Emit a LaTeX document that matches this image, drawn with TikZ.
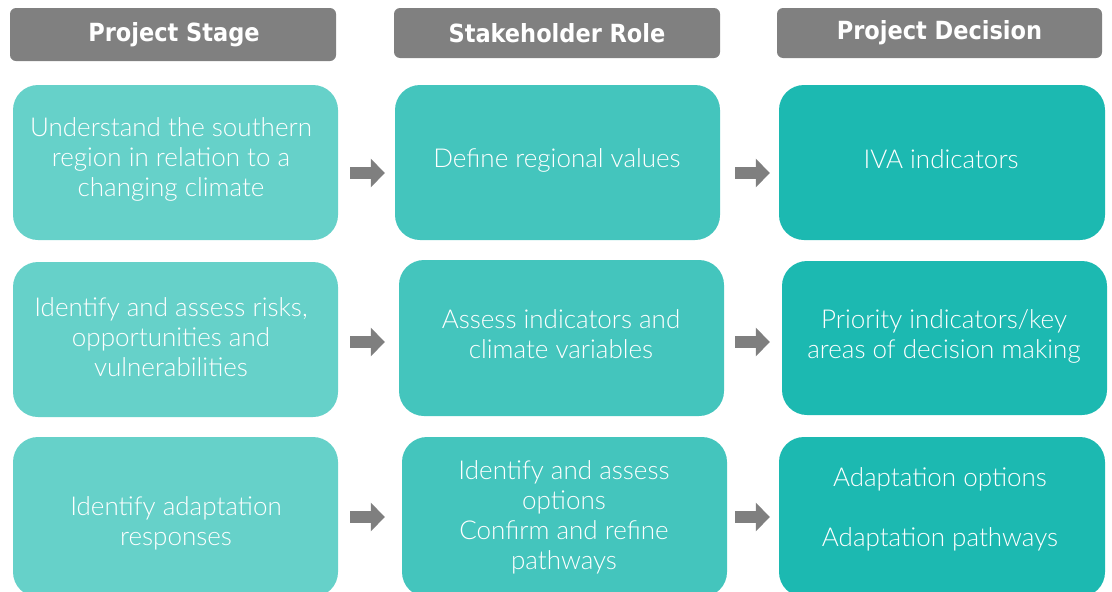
\documentclass[tikz,border=0pt]{standalone}
\usepackage{fontspec}
\setmainfont{Lato Light}
\newfontfamily\hdfont{DejaVu Sans Condensed}
\usetikzlibrary{arrows.meta}
\definecolor{hdgray}{HTML}{808080}
\definecolor{arrgray}{HTML}{7F7F7F}
\definecolor{colA}{HTML}{66D1C9}
\definecolor{colB}{HTML}{44C5BD}
\definecolor{colC}{HTML}{1CB9B1}
\tikzset{
  header/.style={fill=hdgray, rounded corners=6pt, draw=none, inner sep=0pt},
  hdtext/.style={text=white, font=\hdfont\bfseries\fontsize{25}{30}\selectfont, inner sep=0pt},
  card/.style={draw=none, rounded corners=25pt, inner sep=0pt},
  cardA/.style={card, fill=colA},
  cardB/.style={card, fill=colB},
  cardC/.style={card, fill=colC},
  body/.style={text=white, align=center, font=\fontsize{26}{30}\selectfont, inner sep=0pt},
  blockarrow/.style={draw=arrgray, line width=12pt, -{Triangle[length=14pt,width=28pt]}}
}
\begin{document}
\begin{tikzpicture}[x=1pt,y=-1pt]
\clip (0,0) rectangle (1112,592);
% headers
\node[header, minimum width=326pt, minimum height=53pt] (h1) at (173,34.5) {};
\node[header, minimum width=326pt, minimum height=50pt] (h2) at (557,33) {};
\node[header, minimum width=325pt, minimum height=50pt] (h3) at (939.5,33) {};
\node[hdtext] (h1t) at (174,34.5) {Project Stage};
\node[hdtext] (h2t) at (h2.center) {Stakeholder Role};
\node[hdtext] (h3t) at (h3.center) {Project Decision};
% row 1
\node[cardA, minimum width=325pt, minimum height=155pt] (a1) at (175.5,162.5) {};
\node[cardB, minimum width=325pt, minimum height=155pt] (b1) at (557.5,162.5) {};
\node[cardC, minimum width=326pt, minimum height=155pt] (c1) at (942,162.5) {};
\node[body] (a1t) at (171,159) {Understand the southern\\region in relation to a\\changing climate};
\node[body] (b1t) at (557,160) {Define regional values};
\node[body] (c1t) at (941,159) {IVA indicators};
% row 2
\node[cardA, minimum width=325pt, minimum height=155pt] (a2) at (175.5,339.5) {};
\node[cardB, minimum width=325pt, minimum height=156pt] (b2) at (561.5,338) {};
\node[cardC, minimum width=325pt, minimum height=154pt] (c2) at (944.5,338) {};
\node[body] (a2t) at (171,337) {Identify and assess risks,\\opportunities and\\vulnerabilities};
\node[body] (b2t) at (561,334.5) {Assess indicators and\\climate variables};
\node[body] (c2t) at (944,336) {Priority indicators/key\\areas of decision making};
% row 3
\node[cardA, minimum width=325pt, minimum height=160pt] (a3) at (175.5,517) {};
\node[cardB, minimum width=325pt, minimum height=160pt] (b3) at (564.5,517) {};
\node[cardC, minimum width=326pt, minimum height=160pt] (c3) at (942,517) {};
\node[body] (a3t) at (176,523) {Identify adaptation\\responses};
\node[body] (b3t) at (564,517.5) {Identify and assess\\options\\Confirm and refine\\pathways};
\node[body] (c3t) at (940,509) {Adaptation options\\[30pt]Adaptation pathways};
% arrows
\coordinate (r1) at (0,173);
\coordinate (r2) at (0,342);
\coordinate (r3) at (0,517);
\draw[blockarrow, shorten <=12pt, shorten >=10pt] (a1.east |- r1) -- (b1.west |- r1);
\draw[blockarrow, shorten <=15pt, shorten >=9pt] (b1.east |- r1) -- (c1.west |- r1);
\draw[blockarrow, shorten <=12pt, shorten >=14pt] (a2.east |- r2) -- (b2.west |- r2);
\draw[blockarrow, shorten <=11pt, shorten >=12pt] (b2.east |- r2) -- (c2.west |- r2);
\draw[blockarrow, shorten <=12pt, shorten >=17pt] (a3.east |- r3) -- (b3.west |- r3);
\draw[blockarrow, shorten <=8pt, shorten >=9pt] (b3.east |- r3) -- (c3.west |- r3);
\end{tikzpicture}
\end{document}
